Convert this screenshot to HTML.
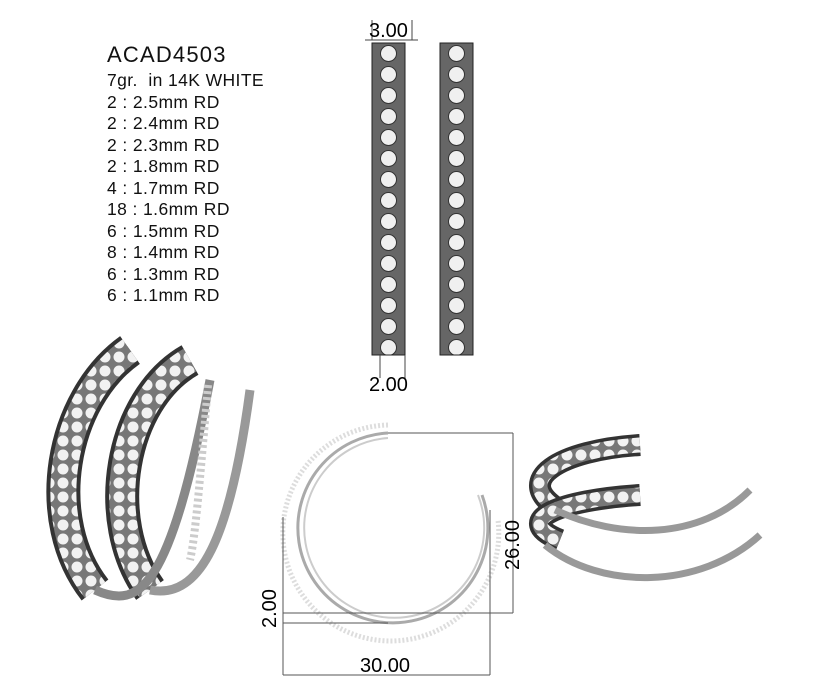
<!DOCTYPE html><html><head><style>body{margin:0;background:#fff;width:823px;height:695px;overflow:hidden;font-family:"Liberation Sans",sans-serif}
.t{position:absolute;left:107px;font-size:17.5px;color:#111;line-height:21.5px;letter-spacing:0.4px}</style></head><body>
<div style="position:absolute;left:107px;top:42px;font-size:22px;color:#111;letter-spacing:1.2px">ACAD4503</div>
<div class="t" style="top:70px">7gr.&nbsp; in 14K WHITE<br>2 : 2.5mm RD<br>2 : 2.4mm RD<br>2 : 2.3mm RD<br>2 : 1.8mm RD<br>4 : 1.7mm RD<br>18 : 1.6mm RD<br>6 : 1.5mm RD<br>8 : 1.4mm RD<br>6 : 1.3mm RD<br>6 : 1.1mm RD</div>
<svg width="823" height="695" style="position:absolute;left:0;top:0" font-family="Liberation Sans" font-size="20">
<defs><pattern id="d1" x="372" y="43" width="33" height="21" patternUnits="userSpaceOnUse"><rect width="33" height="21" fill="#666"/><circle cx="16.5" cy="10.5" r="8" fill="#f0f0f0" stroke="#333"/></pattern>
<pattern id="d2" x="440" y="43" width="33" height="21" patternUnits="userSpaceOnUse"><rect width="33" height="21" fill="#666"/><circle cx="16.5" cy="10.5" r="8" fill="#f0f0f0" stroke="#333"/></pattern>
<pattern id="e" width="14" height="14" patternUnits="userSpaceOnUse"><rect width="14" height="14" fill="#777"/><circle cx="7" cy="7" r="5.5" fill="#f2f2f2"/></pattern></defs>
<rect x="372" y="43" width="33" height="312" fill="url(#d1)" stroke="#222"/>
<rect x="440" y="43" width="33" height="312" fill="url(#d2)" stroke="#222"/>
<line x1="372" y1="40" x2="372" y2="20" stroke="#444"/><line x1="412" y1="40" x2="412" y2="20" stroke="#444"/><line x1="365" y1="40" x2="418" y2="40" stroke="#444"/>
<text x="369" y="37">3.00</text>
<line x1="380" y1="355" x2="380" y2="378" stroke="#444"/><line x1="405" y1="355" x2="405" y2="378" stroke="#444"/>
<text x="369" y="391">2.00</text>
<g fill="none">
<path d="M130 350 C 60 400 40 520 95 590" stroke="#333" stroke-width="34"/>
<path d="M130 350 C 60 400 40 520 95 590" stroke="url(#e)" stroke-width="26"/>
<path d="M190 360 C 120 400 100 520 150 590" stroke="#333" stroke-width="34"/>
<path d="M190 360 C 120 400 100 520 150 590" stroke="url(#e)" stroke-width="26"/>
<path d="M95 590 C 140 610 170 590 210 380" stroke="#888" stroke-width="9"/>
<path d="M150 590 C 200 600 230 540 250 390" stroke="#999" stroke-width="9"/>
<path d="M208 385 C 200 480 195 540 190 560" stroke="#ccc" stroke-width="8" stroke-dasharray="3 3"/>
</g>
<g fill="none">
<path d="M388 425 A 108 108 0 1 0 498 520" stroke="#ddd" stroke-width="5" stroke-dasharray="2 2"/>
<path d="M388 433 A 95 95 0 1 0 482 495" stroke="#aaa" stroke-width="3"/>
<path d="M388 438 A 90 90 0 1 0 478 495" stroke="#ccc" stroke-width="2"/>
</g>
<g stroke="#555" stroke-width="1">
<line x1="388" y1="433" x2="513" y2="433"/><line x1="513" y1="433" x2="513" y2="613"/>
<line x1="283" y1="613" x2="513" y2="613"/><line x1="283" y1="623" x2="388" y2="623"/>
<line x1="283" y1="517" x2="283" y2="675"/><line x1="490" y1="510" x2="490" y2="675"/>
<line x1="283" y1="675" x2="490" y2="675"/></g>
<text x="360" y="672">30.00</text>
<text transform="translate(519,570) rotate(-90)">26.00</text>
<text transform="translate(276,628) rotate(-90)">2.00</text>
<g fill="none">
<path d="M640 445 C 560 450 510 480 560 510" stroke="#333" stroke-width="22"/>
<path d="M640 445 C 560 450 510 480 560 510" stroke="url(#e)" stroke-width="15"/>
<path d="M640 495 C 560 500 510 520 560 540" stroke="#333" stroke-width="22"/>
<path d="M640 495 C 560 500 510 520 560 540" stroke="url(#e)" stroke-width="15"/>
<path d="M555 510 C 620 540 700 540 750 490" stroke="#999" stroke-width="7"/>
<path d="M545 545 C 600 590 700 590 760 535" stroke="#999" stroke-width="7"/>
</g>
</svg></body></html>
